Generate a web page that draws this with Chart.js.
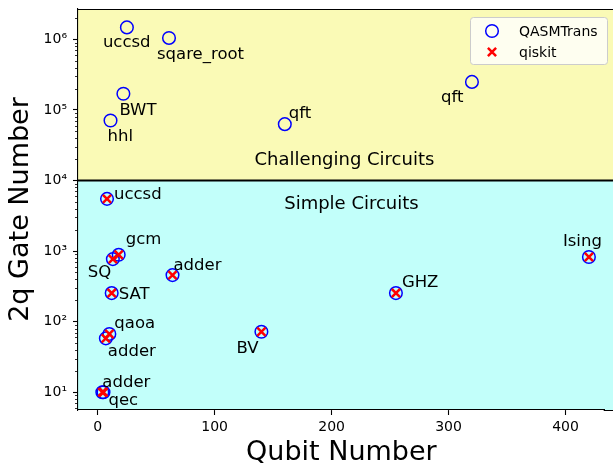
<!DOCTYPE html>
<html>
<head>
<meta charset="utf-8">
<script src="https://cdn.jsdelivr.net/npm/chart.js@4.4.1/dist/chart.umd.min.js"></script>
<style>
  html, body { margin: 0; padding: 0; background: #ffffff; }
  #wrap { width: 613px; height: 466px; }
</style>
</head>
<body>
<div id="wrap"><canvas id="chart" width="613" height="466"></canvas></div>
<script>
// Benchmark circuits: qubit count and two-qubit gate count per compiler
const circuits = ['uccsd', 'sqare_root', 'BWT', 'hhl', 'qft', 'qft',
                  'uccsd', 'gcm', 'SQ', 'adder', 'SAT', 'qaoa', 'adder', 'BV', 'GHZ', 'Ising', 'adder', 'qec'];
const qubitCounts = [25, 61, 22, 11, 160, 320,
                     8, 18, 13, 64, 12, 10, 7, 140, 255, 420, 4, 5];
const qasmtransGates = [1.48e6, 1.05e6, 1.7e5, 7.1e4, 6.3e4, 2.5e5,
                        5500, 887, 770, 457, 254, 67, 58, 72, 254, 824, 10, 10];
// qiskit only finishes the simple circuits
const qiskitGates = [null, null, null, null, null, null,
                     5500, 887, 770, 457, 254, 67, 58, 72, 254, 824, 10, 10];

const xTickValues = [0, 100, 200, 300, 400];
const xTickLabels = ['0', '100', '200', '300', '400'];
const yMajorTicks = [1e1, 1e2, 1e3, 1e4, 1e5, 1e6];
const yTickLabels = ['10\u00b9', '10\u00b2', '10\u00b3', '10\u2074', '10\u2075', '10\u2076'];

const seriesNames = ['QASMTrans', 'qiskit'];
const regionThreshold = 1e4;
const regionNames = ['Challenging Circuits', 'Simple Circuits'];

// Text placement (pixel offsets of each circuit label from its marker)
const labelOffsets = [[-24, 20], [-12, 21], [-4, 21], [-3, 21], [4, -6], [-31, 20],
                      [7, 0], [7, -11], [-25, 18], [1, -5], [7, 6], [5, -6], [2, 18],
                      [-25, 21], [6, -6], [-26, -11], [0, -5], [5, 13]];
// Region captions anchored in data space (centre x, baseline y)
const regionAnchors = [[211, 1.64e4], [217, 3.97e3]];

const FONT = "'DejaVu Sans', 'Liberation Sans', sans-serif";
const COLORS = { upper: 'rgb(250,250,182)', lower: 'rgb(194,255,250)', blue: '#0000ff', red: '#ff0000' };

const isMajor = v => yMajorTicks.some(m => Math.abs(Math.log10(v) - Math.log10(m)) < 1e-9);

const regionPlugin = {
  id: 'regions',
  beforeDraw(chart) {
    const { ctx, chartArea: a, scales: { y } } = chart;
    const ySplit = y.getPixelForValue(regionThreshold);
    ctx.save();
    ctx.fillStyle = COLORS.upper;
    ctx.fillRect(a.left, a.top, chart.width - a.left, ySplit - a.top);
    ctx.fillStyle = COLORS.lower;
    ctx.fillRect(a.left, ySplit, chart.width - a.left, a.bottom - ySplit);
    ctx.restore();
  },
  beforeDatasetsDraw(chart) {
    const { ctx, chartArea: a, scales: { y } } = chart;
    const ySplit = y.getPixelForValue(regionThreshold);
    ctx.save();
    ctx.strokeStyle = '#000';
    ctx.lineWidth = 2;
    ctx.beginPath();
    ctx.moveTo(a.left, ySplit);
    ctx.lineTo(chart.width, ySplit);
    ctx.stroke();
    ctx.restore();
  },
  afterDatasetsDraw(chart) {
    const { ctx, scales: { x, y } } = chart;
    ctx.save();
    ctx.fillStyle = '#000';
    ctx.textBaseline = 'alphabetic';
    // circuit names beside the markers
    ctx.font = `16.5px ${FONT}`;
    ctx.textAlign = 'left';
    circuits.forEach((name, i) => {
      const px = x.getPixelForValue(qubitCounts[i]);
      const py = y.getPixelForValue(qasmtransGates[i]);
      ctx.fillText(name, px + labelOffsets[i][0], py + labelOffsets[i][1]);
    });
    // region captions
    ctx.font = `18px ${FONT}`;
    ctx.textAlign = 'center';
    regionNames.forEach((name, i) => {
      ctx.fillText(name, x.getPixelForValue(regionAnchors[i][0]), y.getPixelForValue(regionAnchors[i][1]));
    });
    ctx.restore();
  },
  afterDraw(chart) {
    const { ctx, chartArea: a, scales: { y } } = chart;
    ctx.save();
    ctx.strokeStyle = '#000';
    // top spine, and the bottom spine carried on to the canvas edge
    ctx.lineWidth = 1.1;
    ctx.beginPath();
    ctx.moveTo(a.left, Math.round(a.top) + 0.5);
    ctx.lineTo(chart.width, Math.round(a.top) + 0.5);
    ctx.moveTo(a.right - 1, Math.round(a.bottom) + 0.5);
    ctx.lineTo(chart.width, Math.round(a.bottom) + 0.5);
    ctx.stroke();
    // minor log ticks on the y axis
    ctx.lineWidth = 0.8;
    y.ticks.forEach(t => {
      if (isMajor(t.value)) return;
      const py = Math.round(y.getPixelForValue(t.value)) + 0.5;
      ctx.beginPath();
      ctx.moveTo(a.left - 3, py);
      ctx.lineTo(a.left, py);
      ctx.stroke();
    });
    // legend box
    const bx = 470.5, by = 17.5, bw = 137, bh = 47, r = 3;
    ctx.beginPath();
    ctx.moveTo(bx + r, by);
    ctx.lineTo(bx + bw - r, by);
    ctx.quadraticCurveTo(bx + bw, by, bx + bw, by + r);
    ctx.lineTo(bx + bw, by + bh - r);
    ctx.quadraticCurveTo(bx + bw, by + bh, bx + bw - r, by + bh);
    ctx.lineTo(bx + r, by + bh);
    ctx.quadraticCurveTo(bx, by + bh, bx, by + bh - r);
    ctx.lineTo(bx, by + r);
    ctx.quadraticCurveTo(bx, by, bx + r, by);
    ctx.closePath();
    ctx.fillStyle = 'rgba(255,255,255,0.8)';
    ctx.fill();
    ctx.strokeStyle = '#cccccc';
    ctx.lineWidth = 1;
    ctx.stroke();
    const rows = [31, 52];
    chart.data.datasets.forEach((ds, i) => {
      ctx.strokeStyle = ds.pointBorderColor;
      ctx.fillStyle = ds.pointBackgroundColor;
      ctx.lineWidth = ds.pointBorderWidth;
      Chart.helpers.drawPoint(ctx, { pointStyle: ds.pointStyle, radius: ds.pointRadius, borderWidth: ds.pointBorderWidth, rotation: 0 }, 492, rows[i]);
      ctx.fillStyle = '#000';
      ctx.font = `14px ${FONT}`;
      ctx.textAlign = 'left';
      ctx.textBaseline = 'alphabetic';
      ctx.fillText(seriesNames[i], 519, rows[i] + 5);
    });
    ctx.restore();
  }
};

new Chart(document.getElementById('chart'), {
  type: 'scatter',
  data: {
    datasets: [
      {
        label: seriesNames[0],
        data: qubitCounts.map((q, i) => ({ x: q, y: qasmtransGates[i] })),
        pointStyle: 'circle',
        pointRadius: 6.3,
        pointBorderWidth: 1.5,
        pointBorderColor: COLORS.blue,
        pointBackgroundColor: 'rgba(0,0,0,0)',
        order: 2
      },
      {
        label: seriesNames[1],
        data: qubitCounts.map((q, i) => ({ x: q, y: qiskitGates[i] })).filter(p => p.y !== null),
        pointStyle: 'crossRot',
        pointRadius: 5.8,
        pointBorderWidth: 2.5,
        pointBorderColor: COLORS.red,
        pointBackgroundColor: COLORS.red,
        order: 1
      }
    ]
  },
  options: {
    responsive: false,
    animation: false,
    devicePixelRatio: 1,
    layout: { padding: { top: 9, right: 0, bottom: 0, left: 0 } },
    plugins: { legend: { display: false }, tooltip: { enabled: false } },
    scales: {
      x: {
        type: 'linear',
        min: -16.8,
        max: 433.5,
        afterBuildTicks: s => { s.ticks = xTickValues.map(v => ({ value: v })); },
        afterFit: s => { s.height = 56; s.paddingLeft = 0; s.paddingRight = 0; },
        ticks: {
          autoSkip: false,
          maxRotation: 0,
          padding: 4,
          color: '#000',
          font: { family: FONT, size: 14 },
          callback: (v, i) => xTickLabels[i]
        },
        grid: { drawOnChartArea: false, tickLength: 5, tickWidth: 1.1, tickColor: '#000' },
        border: { color: '#000', width: 1.1 },
        title: {
          display: true, text: 'Qubit Number', color: '#000',
          font: { family: FONT, size: 27, lineHeight: 1 },
          padding: { top: 0, bottom: 0 }
        }
      },
      y: {
        type: 'logarithmic',
        min: 5.6,
        max: 2.7e6,
        afterBuildTicks: s => {
          const list = [];
          for (let e = 0; e <= 6; e++) {
            for (let k = 1; k <= 9; k++) {
              const v = k * Math.pow(10, e);
              if (v >= s.min && v <= s.max) list.push({ value: v });
            }
          }
          s.ticks = list;
        },
        afterFit: s => { s.width = 78; s.paddingTop = 0; s.paddingBottom = 0; },
        ticks: {
          autoSkip: false,
          padding: 6,
          color: '#000',
          font: { family: FONT, size: 14 },
          callback: v => {
            const idx = yMajorTicks.findIndex(m => Math.abs(Math.log10(v) - Math.log10(m)) < 1e-9);
            return idx >= 0 ? yTickLabels[idx] : '';
          }
        },
        grid: {
          drawOnChartArea: false, tickLength: 5, tickWidth: 1.1,
          tickColor: c => (c.tick && isMajor(c.tick.value)) ? '#000' : 'rgba(0,0,0,0)'
        },
        border: { color: '#000', width: 1.1 },
        title: {
          display: true, text: '2q Gate Number', color: '#000',
          font: { family: FONT, size: 27, lineHeight: 1 },
          padding: { top: 7, bottom: 0 }
        }
      }
    }
  },
  plugins: [regionPlugin]
});
</script>
</body>
</html>
